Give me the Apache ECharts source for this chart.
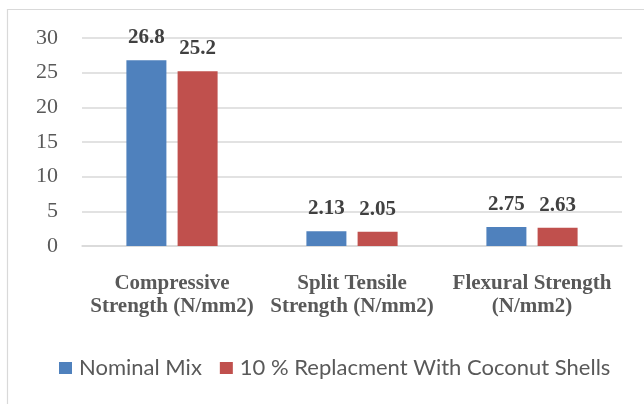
<!DOCTYPE html>
<html>
<head>
<meta charset="utf-8">
<script src="https://cdn.jsdelivr.net/npm/echarts@6/dist/echarts.min.js"></script>
<style>
  html, body { margin: 0; padding: 0; background: #ffffff; }
  #chart { width: 644px; height: 404px; }
</style>
</head>
<body>
<div id="chart"></div>
<script>
// Strength test results: nominal concrete mix vs. 10 % coconut-shell replacement
var categories = [
  'Compressive\nStrength (N/mm2)',
  'Split Tensile\nStrength (N/mm2)',
  'Flexural Strength\n(N/mm2)'
];
var seriesNames = ['Nominal Mix', '10 % Replacment With Coconut Shells'];
var nominalMix = [26.8, 2.13, 2.75];
var coconutMix = [25.2, 2.05, 2.63];
var yTicks = [0, 5, 10, 15, 20, 25, 30];

var serif = '"Liberation Serif", "Times New Roman", serif';

var chart = echarts.init(document.getElementById('chart'), null, { renderer: 'canvas' });

function barSeries(name, data, color) {
  return {
    name: name,
    type: 'bar',
    data: data,
    barWidth: 40,
    barGap: '28%',
    itemStyle: { color: color },
    label: {
      show: true,
      position: 'top',
      distance: 12,
      fontFamily: serif,
      fontWeight: 'bold',
      fontSize: 21,
      color: '#404040'
    }
  };
}

chart.setOption({
  animation: false,
  backgroundColor: '#ffffff',
  graphic: [{
    type: 'polyline',
    shape: { points: [[7.5, 404], [7.5, 9.5], [644, 9.5]] },
    style: { stroke: '#d9d9d9', lineWidth: 1.2, fill: null },
    silent: true
  }],
  grid: { left: 82, right: 22, top: 38, bottom: 158, containLabel: false },
  legend: {
    data: seriesNames,
    left: 59,
    top: 357,
    padding: 0,
    itemWidth: 13,
    itemHeight: 12,
    itemGap: 18,
    icon: 'rect',
    textStyle: {
      fontFamily: 'Lato, "Open Sans", sans-serif',
      fontSize: 22,
      color: '#595959',
      padding: [0, 0, 0, 2]
    }
  },
  xAxis: {
    type: 'category',
    data: categories,
    axisLine: { show: true, lineStyle: { color: '#d9d9d9', width: 1.5 } },
    axisTick: { show: false },
    axisLabel: {
      interval: 0,
      margin: 26,
      fontFamily: serif,
      fontWeight: 'bold',
      fontSize: 21,
      lineHeight: 23,
      color: '#595959'
    }
  },
  yAxis: {
    type: 'value',
    min: yTicks[0],
    max: yTicks[yTicks.length - 1],
    interval: yTicks[1] - yTicks[0],
    axisLine: { show: false },
    axisTick: { show: false },
    splitLine: { lineStyle: { color: '#d9d9d9', width: 1.5 } },
    axisLabel: {
      margin: 24,
      fontFamily: serif,
      fontSize: 22,
      color: '#595959'
    }
  },
  series: [
    barSeries(seriesNames[0], nominalMix, '#4f81bd'),
    barSeries(seriesNames[1], coconutMix, '#c0504d')
  ]
});
</script>
</body>
</html>
